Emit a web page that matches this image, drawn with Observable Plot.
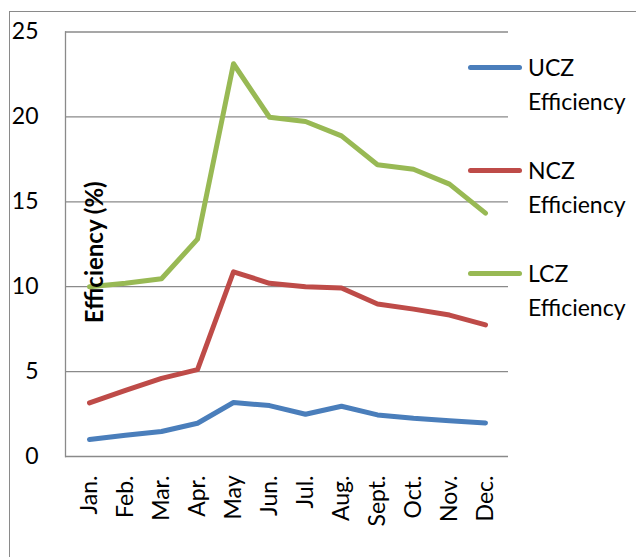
<!DOCTYPE html>
<html>
<head>
<meta charset="utf-8">
<script src="https://cdn.jsdelivr.net/npm/d3@7"></script>
<script src="https://cdn.jsdelivr.net/npm/@observablehq/plot@0.6"></script>
<style>
  html, body { margin: 0; padding: 0; background: #fff; }
  #wrap { position: relative; width: 636px; height: 557px; overflow: hidden; font-family: Lato, "Liberation Sans", sans-serif; }
  #border { position: absolute; left: 9px; top: 11px; width: 700px; height: 700px; border-left: 1.3px solid #8a8a8a; border-top: 1.3px solid #8a8a8a; }
  #chart { position: absolute; left: 0; top: 0; }
  .leg { position: absolute; left: 468px; font-size: 23px; line-height: 34px; color: #000; }
  .leg .sw { position: absolute; left: 0; width: 54px; height: 5px; border-radius: 3px; }
  .leg .tx { position: absolute; left: 60px; white-space: nowrap; }
</style>
</head>
<body>
<div id="wrap">
  <div id="border"></div>
  <div id="chart"></div>
  <div id="legend"></div>
</div>
<script>
const months = ["Jan.", "Feb.", "Mar.", "Apr.", "May", "Jun.", "Jul.", "Aug.", "Sept.", "Oct.", "Nov.", "Dec."];
const seriesNames = ["UCZ Efficiency", "NCZ Efficiency", "LCZ Efficiency"];
const seriesColors = ["#4a7ebb", "#be4b48", "#98b954"];
const ucz = [1.0, 1.25, 1.47, 1.96, 3.18, 3.0, 2.49, 2.96, 2.45, 2.25, 2.1, 1.98];
const ncz = [3.16, 3.9, 4.6, 5.12, 10.88, 10.2, 10.0, 9.92, 8.98, 8.68, 8.33, 7.75];
const lcz = [10.0, 10.2, 10.47, 12.8, 23.13, 19.98, 19.73, 18.88, 17.18, 16.92, 16.04, 14.33];
const yTicks = [0, 5, 10, 15, 20, 25];
const yLabel = "Efficiency (%)";

const values = [ucz, ncz, lcz];
const data = [];
seriesNames.forEach((s, si) => months.forEach((m, i) => data.push({series: s, month: m, value: values[si][i]})));

const chart = Plot.plot({
  width: 636,
  height: 557,
  marginLeft: 65,
  marginRight: 128,
  marginTop: 31.5,
  marginBottom: 101,
  style: {fontFamily: "Lato, 'Liberation Sans', sans-serif", fontSize: "23px", color: "#000", background: "transparent", overflow: "visible"},
  x: {type: "point", domain: months, padding: 0.5, label: null},
  y: {domain: [0, 25], label: null},
  color: {domain: seriesNames, range: seriesColors},
  marks: [
    Plot.ruleY(yTicks, {stroke: "#8a8a8a", strokeWidth: 1.3}),
    Plot.frame({anchor: "left", stroke: "#8a8a8a", strokeWidth: 1.3}),
    Plot.axisY({ticks: yTicks, tickSize: 0, tickPadding: 27, label: null}),
    Plot.axisX({tickSize: 0, tickRotate: -90, tickPadding: 19, label: null}),
    Plot.line(data, {x: "month", y: "value", z: "series", stroke: "series", strokeWidth: 5, strokeLinecap: "round", strokeLinejoin: "round"}),
    Plot.text([yLabel], {frameAnchor: "left", textAnchor: "middle", rotate: -90, dx: 30, dy: 8, fontWeight: "bold", fontSize: 24})
  ]
});
document.getElementById("chart").appendChild(chart);

const legendY = [67, 170, 273];
const legend = document.getElementById("legend");
seriesNames.forEach((s, i) => {
  const [a, b] = s.split(" ");
  const item = document.createElement("div");
  item.className = "leg";
  item.style.top = (legendY[i]) + "px";
  item.innerHTML = `<div class="sw" style="background:${seriesColors[i]};top:-2.5px"></div>
    <div class="tx" style="top:-17px">${a}</div>
    <div class="tx" style="top:17px">${b}</div>`;
  legend.appendChild(item);
});
</script>
</body>
</html>
